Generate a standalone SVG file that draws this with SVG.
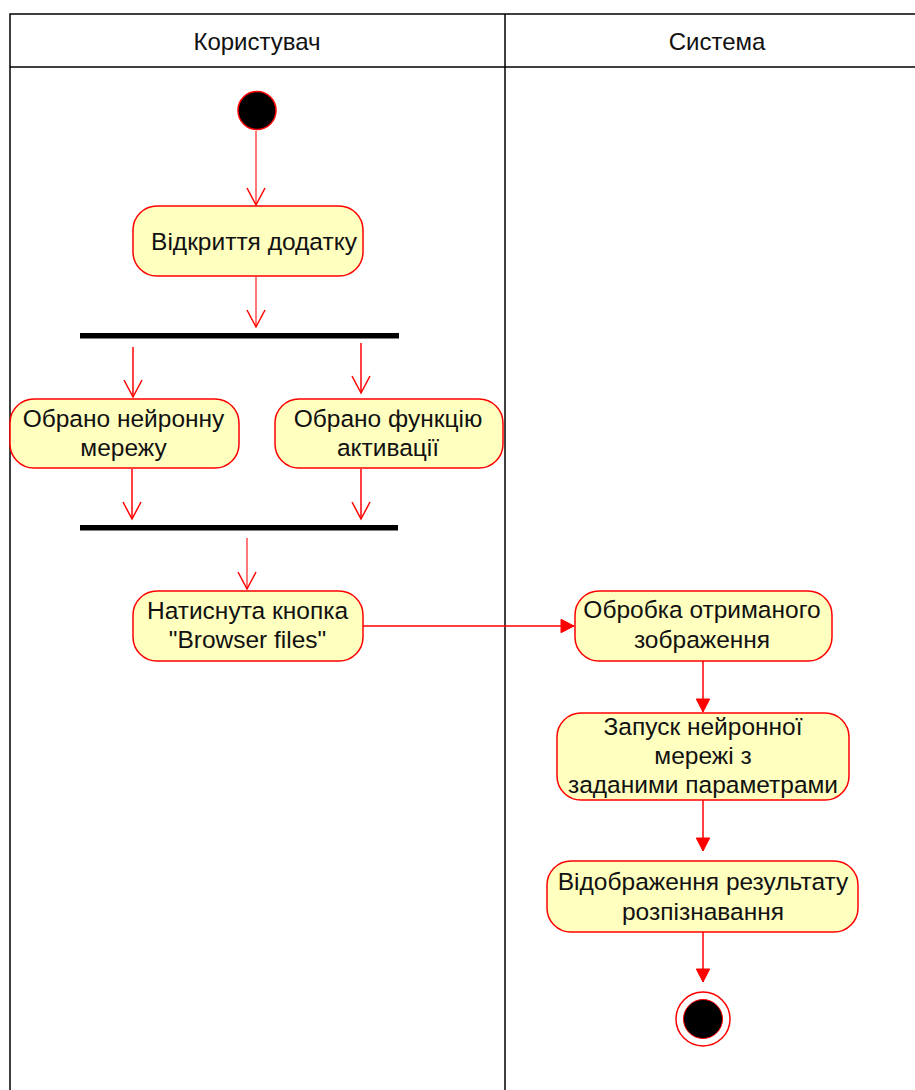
<svg xmlns="http://www.w3.org/2000/svg" width="915" height="1090" viewBox="0 0 915 1090">
<style>
.frame{fill:none;stroke:#000;stroke-width:1.5}
.act{fill:#FFFFC0;stroke:#FF0000;stroke-width:1.5}
.t{font-family:"Liberation Sans",Arial,sans-serif;font-size:24.5px;fill:#111;text-anchor:middle}
.h{font-family:"Liberation Sans",Arial,sans-serif;font-size:24px;fill:#111;text-anchor:middle}
.bar{fill:#000}
.flow{fill:none;stroke:#FF0000;stroke-width:1.5}
.faded{stroke-opacity:0.7}
</style>
<defs>
<marker id="open" markerUnits="userSpaceOnUse" markerWidth="24" markerHeight="24" viewBox="-20 -12 24 24" refX="0" refY="0" orient="auto">
<path d="M-17,-9 L0,0 L-17,9" fill="none" stroke="#FF0000" stroke-width="1.5"/>
</marker>
<marker id="block" markerUnits="userSpaceOnUse" markerWidth="20" markerHeight="20" viewBox="-16 -10 20 20" refX="0" refY="0" orient="auto">
<path d="M-13,-6.7 L0,0 L-13,6.7 Z" fill="#FF0000" stroke="#FF0000" stroke-width="1"/>
</marker>
</defs>
<rect width="915" height="1090" fill="#fff"/>
<g id="pool">
<rect class="frame" x="10" y="14" width="920" height="1090"/>
<line class="frame" x1="10" y1="67" x2="930" y2="67"/>
<line class="frame" x1="505" y1="14" x2="505" y2="1100"/>
<text class="h" x="257" y="50">Користувач</text>
<text class="h" x="717" y="50">Система</text>
</g>
<g id="connectors">
<line class="flow faded" x1="256" y1="131" x2="256" y2="205" marker-end="url(#open)"/>
<line class="flow faded" x1="256" y1="277" x2="256" y2="327" marker-end="url(#open)"/>
<line class="flow" x1="133" y1="347" x2="133" y2="397" marker-end="url(#open)"/>
<line class="flow" x1="361" y1="343" x2="361" y2="393" marker-end="url(#open)"/>
<line class="flow" x1="132" y1="469" x2="132" y2="519" marker-end="url(#open)"/>
<line class="flow" x1="361" y1="469" x2="361" y2="519" marker-end="url(#open)"/>
<line class="flow faded" x1="247" y1="538" x2="247" y2="589" marker-end="url(#open)"/>
<line class="flow" x1="363" y1="626" x2="574" y2="626" marker-end="url(#block)"/>
<line class="flow" x1="703" y1="661" x2="703" y2="712" marker-end="url(#block)"/>
<line class="flow" x1="703" y1="800" x2="703" y2="851" marker-end="url(#block)"/>
<line class="flow" x1="703" y1="932" x2="703" y2="982" marker-end="url(#block)"/>
</g>
<g id="start">
<circle cx="257" cy="110.5" r="19" fill="#000" stroke="#FF0000" stroke-width="1.5"/>
</g>
<g id="open-app">
<rect class="act" x="133" y="206" width="230" height="70" rx="24" ry="24"/>
<text class="t" x="254" y="250">Відкриття додатку</text>
</g>
<g id="fork">
<rect class="bar" x="80" y="333" width="319" height="5.5"/>
</g>
<g id="select-net">
<rect class="act" x="10" y="399" width="229" height="69" rx="24" ry="24"/>
<text class="t" x="123.5" y="427">Обрано нейронну</text>
<text class="t" x="123.5" y="456">мережу</text>
</g>
<g id="select-act">
<rect class="act" x="275" y="399" width="228" height="69" rx="24" ry="24"/>
<text class="t" x="388" y="427">Обрано функцію</text>
<text class="t" x="388" y="456">активації</text>
</g>
<g id="join">
<rect class="bar" x="80" y="525" width="318" height="5.5"/>
</g>
<g id="press">
<rect class="act" x="133" y="591" width="230" height="70" rx="24" ry="24"/>
<text class="t" x="247.5" y="619">Натиснута кнопка</text>
<text class="t" x="247.5" y="648">"Browser files"</text>
</g>
<g id="process">
<rect class="act" x="575" y="591" width="257" height="70" rx="24" ry="24"/>
<text class="t" x="702" y="618">Обробка отриманого</text>
<text class="t" x="702" y="648">зображення</text>
</g>
<g id="run">
<rect class="act" x="557" y="713" width="292" height="87" rx="24" ry="24"/>
<text class="t" x="703" y="735">Запуск нейронної</text>
<text class="t" x="703" y="764">мережі з</text>
<text class="t" x="703" y="793">заданими параметрами</text>
</g>
<g id="show">
<rect class="act" x="547" y="861" width="311" height="71" rx="24" ry="24"/>
<text class="t" x="703" y="890">Відображення результату</text>
<text class="t" x="703" y="920">розпізнавання</text>
</g>
<g id="end">
<circle cx="703" cy="1019" r="27" fill="#fff" stroke="#FF0000" stroke-width="1.5"/>
<circle cx="703" cy="1019" r="19.5" fill="#000" stroke="#FF0000" stroke-width="1"/>
</g>
</svg>
